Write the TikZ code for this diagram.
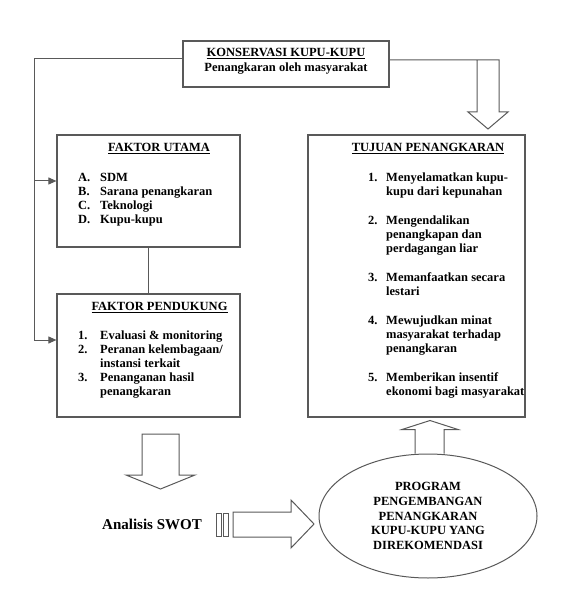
\documentclass[tikz,border=0pt]{standalone}
\usepackage{fontspec}
\setmainfont{Liberation Serif}
\usetikzlibrary{arrows.meta,shapes.geometric}

\begin{document}
\begin{tikzpicture}[x=1pt, y=-1pt, line join=miter,
    kotak/.style={draw=black!65, line width=1.2pt, inner sep=0pt},
    garis/.style={draw=black!65, line width=1pt},
    panah/.style={garis, -{Triangle[length=8pt,width=7pt]}},
    teks/.style={inner sep=0pt, font=\bfseries\fontsize{12.5}{14}\selectfont},
    judul/.style={teks, anchor=base},
    daftar/.style={teks, anchor=base west}]
  \useasboundingbox (0,0) rectangle (571,601);

  % ---------------- top ----------------
  \node[kotak, minimum width=206pt, minimum height=46pt] (top) at (286,64) {};
  \node[teks, align=center, font=\bfseries\fontsize{12.5}{15}\selectfont] (toptxt) at (286,61)
    {\underline{KONSERVASI KUPU-KUPU}\\Penangkaran oleh masyarakat};

  % ---------------- left column ----------------
  \node[kotak, minimum width=183pt, minimum height=112pt] (utama) at (148.5,191) {};
  \node[judul] (jutama) at (159,151.5) {\underline{FAKTOR UTAMA}};
  \node[daftar] (lutama) at (78,181.5) {\begin{tabular}[t]{@{}p{22pt}@{}l@{}}
    A. & SDM\\
    B. & Sarana penangkaran\\
    C. & Teknologi\\
    D. & Kupu-kupu
  \end{tabular}};

  \node[kotak, minimum width=183pt, minimum height=123pt] (pendukung) at (148.5,355.5) {};
  \node[judul] (jpendukung) at (159.5,310.5) {\underline{FAKTOR PENDUKUNG}};
  \node[daftar] (lpendukung) at (78,339.5) {\begin{tabular}[t]{@{}p{22pt}@{}l@{}}
    1. & Evaluasi \& monitoring\\
    2. & Peranan kelembagaan/\\
       & instansi terkait\\
    3. & Penanganan hasil\\
       & penangkaran
  \end{tabular}};
  \draw[garis] (utama) -- (pendukung);

  % feed from the top box
  \coordinate (belok) at (34,59);
  \coordinate (ke1) at (34,181);
  \coordinate (ke2) at (34,340);
  \draw[garis] (top.west |- belok) -- (belok) -- (ke2);
  \draw[panah] (ke1) -- (ke1 -| utama.west);
  \draw[panah] (ke2) -- (ke2 -| pendukung.west);

  % ---------------- right column ----------------
  \node[kotak, minimum width=217pt, minimum height=282pt] (tujuan) at (416.5,276) {};
  \node[judul] (jtujuan) at (428,151.5) {\underline{TUJUAN PENANGKARAN}};
  \node[daftar] (ltujuan) at (368,181.5) {\begin{tabular}[t]{@{}p{18pt}@{}l@{}}
    1. & Menyelamatkan kupu-\\
       & kupu dari kepunahan\\[15pt]
    2. & Mengendalikan\\
       & penangkapan dan\\
       & perdagangan liar\\[15pt]
    3. & Memanfaatkan secara\\
       & lestari\\[15pt]
    4. & Mewujudkan minat\\
       & masyarakat terhadap\\
       & penangkaran\\[15pt]
    5. & Memberikan insentif\\
       & ekonomi bagi masyarakat
  \end{tabular}};

  % hollow arrow down into the goals
  \coordinate (kanan) at (499,60);
  \draw[garis] (top.east |- kanan) -- (kanan) -- ++(0,52) -- ++(9,0) -- ++(-20,17)
    -- ++(-20,-17) -- ++(9,0) -- ++(0,-52);

  % ---------------- bottom ----------------
  \coordinate (turun) at (160.5,434);
  \draw[garis] ([xshift=-18.5pt]turun) -- ++(37,0) -- ++(0,41) -- ++(16,0) -- ++(-34.5,14)
    -- ++(-34.5,-14) -- ++(16,0) -- cycle;
  \node[teks, font=\bfseries\fontsize{15}{17}\selectfont] (swot) at (152,524) {Analisis SWOT};

  \node[ellipse, garis, minimum width=218pt, minimum height=124pt, inner sep=0pt, align=center,
    font=\bfseries\fontsize{12.5}{14.75}\selectfont] (program) at (428,516)
    {PROGRAM\\PENGEMBANGAN\\PENANGKARAN\\KUPU-KUPU YANG\\DIREKOMENDASI};

  % striped hollow arrow to the program
  \draw[garis, line width=0.8pt] (216,513) rectangle (221,536) (223,513) rectangle (228,536);
  \draw[garis] (233,512) -- (291,512) -- (291,500) -- (314,524) -- (291,548) -- (291,537)
    -- (233,537) -- cycle;

  % hollow arrow up to the goals
  \draw[garis] ([xshift=-13pt]program.north) -- ++(0,-24) -- ++(-13,0) -- ++(28,-9)
    -- ++(28,9) -- ++(-14,0) -- ++(0,24);
\end{tikzpicture}
\end{document}
